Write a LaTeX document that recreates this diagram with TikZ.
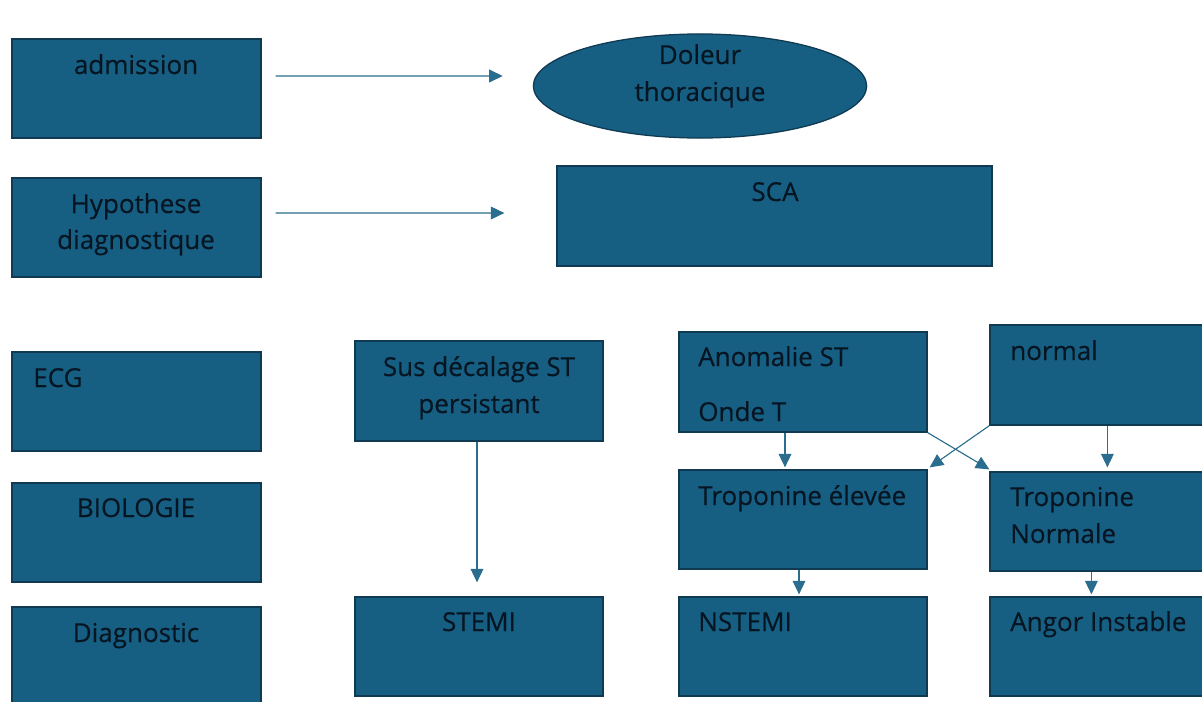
\documentclass[tikz,border=0pt]{standalone}
\usepackage{fontspec}
\setmainfont{Open Sans}
\newfontfamily\boxfont{Open Sans}[FakeBold=0.35]
\usetikzlibrary{fit,shapes.geometric,arrows.meta}
\definecolor{boxfill}{HTML}{165F82}
\definecolor{boxline}{HTML}{0F3A52}
\definecolor{ink}{HTML}{061521}
\definecolor{arrowc}{HTML}{2A6D8F}
\begin{document}
\begin{tikzpicture}[x=0.025cm, y=-0.025cm,
  box/.style={draw=boxline, fill=boxfill, line width=0.9pt, inner sep=0pt},
  txt/.style={text=ink, font=\boxfont\fontsize{18.5}{22}\selectfont, inner sep=0pt, anchor=base},
  txtl/.style={txt, anchor=base west},
  arr/.style={draw=arrowc, line width=0.8pt, -{Triangle[length=0.34cm,width=0.32cm]}}]
\useasboundingbox (0,0) rectangle (1202,702);
\clip (0,0) rectangle (1202,702);

% left column of stages
\node[box, fit={(12,39)(261,138)}] (adm) {};
\node[txt] (admT) at (136,74) {admission};
\node[box, fit={(12,178)(261,277)}] (hyp) {};
\node[txt] (hypT1) at (136,213) {Hypothese};
\node[txt] (hypT2) at (136,249) {diagnostique};
\node[box, fit={(12,352)(261,451)}] (ecg) {};
\node[txtl] (ecgT) at (33,387) {ECG};
\node[box, fit={(12,483)(261,582)}] (bio) {};
\node[txt] (bioT) at (136,517) {BIOLOGIE};
\node[box, fit={(12,607)(261,712)}] (diag) {};
\node[txt] (diagT) at (136,642) {Diagnostic};

% top row
\node[ellipse, draw=boxline, fill=boxfill, line width=0.9pt, minimum width=8.33cm, minimum height=2.6cm, inner sep=0pt] (ell) at (700,86) {};
\node[txt] (ellT1) at (700,64) {Doleur};
\node[txt] (ellT2) at (700,101) {thoracique};
\node[box, fit={(557,166)(992,266)}] (sca) {};
\node[txt] (scaT) at (775,201) {SCA};

% ECG branches
\node[box, fit={(355,341)(603,441)}] (sus) {};
\node[txt] (susT1) at (479,376) {Sus décalage ST};
\node[txt] (susT2) at (479,413) {persistant};
\node[box, fit={(679,332)(927,432)}] (anom) {};
\node[txtl] (anomT1) at (698,366) {Anomalie ST};
\node[txtl] (anomT2) at (698,421) {Onde T};
\node[box, fit={(990,325)(1210,425)}] (norm) {};
\node[txtl] (normT) at (1010,360) {normal};

% biology
\node[box, fit={(679,470)(927,569)}] (tropE) {};
\node[txtl] (tropET) at (698,505) {Troponine élevée};
\node[box, fit={(990,472)(1210,571)}] (tropN) {};
\node[txtl] (tropNT1) at (1010,506) {Troponine};
\node[txtl] (tropNT2) at (1010,543) {Normale};

% diagnoses
\node[box, fit={(355,597)(603,696)}] (stemi) {};
\node[txt] (stemiT) at (479,631) {STEMI};
\node[box, fit={(679,597)(927,696)}] (nstemi) {};
\node[txtl] (nstemiT) at (698,631) {NSTEMI};
\node[box, fit={(990,597)(1210,696)}] (angor) {};
\node[txtl] (angorT) at (1010,631) {Angor Instable};

% connectors
\draw[arr] ([shift={(14,-12.5)}]adm.east) -- ([shift={(-30,-10)}]ell.west);
\draw[arr] ([shift={(14,-14.5)}]hyp.east) -- ([shift={(-52,-3)}]sca.west);
\draw[arr] ([shift={(-2,0)}]sus.south) -- ([shift={(-2,-14)}]stemi.north);
\draw[arr] ([shift={(-18,0)}]anom.south) -- ([shift={(-18,-2)}]tropE.north);
\draw[arr] ([shift={(118,0)}]norm.south west) -- ([shift={(118,-4)}]tropN.north west);
\draw[arr] (anom.south east) -- ([shift={(0,-2)}]tropN.north west);
\draw[arr] (norm.south west) -- ([shift={(2,-2)}]tropE.north east);
\draw[arr] ([shift={(-4,0)}]tropE.south) -- ([shift={(-4,-2)}]nstemi.north);
\draw[arr] ([shift={(102,0)}]tropN.south west) -- ([shift={(102,-2)}]angor.north west);
\end{tikzpicture}
\end{document}
